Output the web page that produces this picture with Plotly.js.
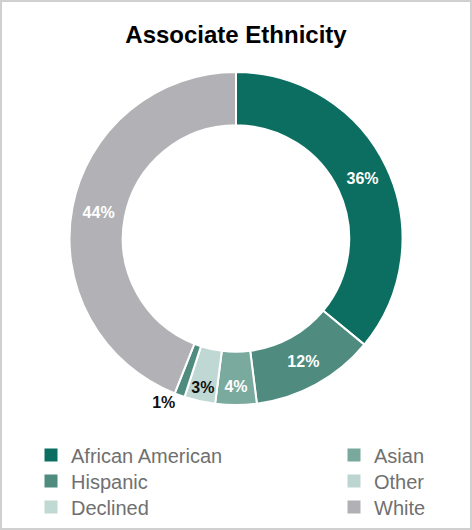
<!DOCTYPE html>
<html>
<head>
<meta charset="utf-8">
<script src="https://cdn.plot.ly/plotly-3.0.1.min.js"></script>
<style>html,body{margin:0;padding:0;background:#fff;}#chart{width:472px;height:530px;}</style>
</head>
<body>
<div id="chart"></div>
<script>
// Slice data (clockwise from top)
var sliceLabels = ['African American', 'Hispanic', 'Asian', 'Declined', 'Other', 'White'];
var sliceValues = [36, 12, 4, 3, 1, 44];
var sliceColors = ['#0c6e60', '#4f8c7f', '#7aaa9e', '#c0d8d3', '#4f8c7f', '#b2b2b6'];
var sliceTextColors = ['#ffffff', '#ffffff', '#ffffff', '#111111', '#111111', '#ffffff'];
var sliceTextPos = ['inside', 'inside', 'inside', 'inside', 'outside', 'inside'];

// Legend entries, in reading order (two columns, three rows)
var legendNames = ['African American', 'Asian', 'Hispanic', 'Other', 'Declined', 'White'];
var legendColors = ['#0c6e60', '#79a99c', '#4f8b7e', '#bdd5d0', '#c0d9d3', '#b1b1b5'];

var W = 472, H = 530;

var traces = [{
  type: 'pie',
  labels: sliceLabels,
  values: sliceValues,
  sort: false,
  direction: 'clockwise',
  rotation: 0,
  hole: 0.68,
  marker: {colors: sliceColors, line: {color: '#ffffff', width: 2}},
  textinfo: 'percent',
  textposition: sliceTextPos,
  insidetextorientation: 'horizontal',
  textfont: {family: 'Liberation Sans, Arial, sans-serif', size: 16, color: sliceTextColors, weight: 'bold'},
  showlegend: false,
  domain: {x: [69.5 / W, 402.5 / W], y: [(H - 405) / H, (H - 72) / H]},
  hoverinfo: 'label+percent'
}];

var legendFont = {family: 'Liberation Sans, Arial, sans-serif', size: 20, color: '#707070'};
var colX = [31, 334];          // legend column left edges (px)
var rowY = [455, 481, 507];    // legend row centres (px)

var layout = {
  width: W, height: H,
  margin: {l: 0, r: 0, t: 0, b: 0},
  paper_bgcolor: '#ffffff',
  plot_bgcolor: '#ffffff',
  title: {
    text: 'Associate Ethnicity',
    x: 0.5, xanchor: 'center',
    y: 1 - 35 / H, yanchor: 'middle', yref: 'container',
    font: {family: 'Liberation Sans, Arial, sans-serif', size: 24, color: '#000000', weight: 'bold'}
  },
  xaxis: {visible: false},
  yaxis: {visible: false},
  shapes: [{
    type: 'rect', xref: 'paper', yref: 'paper',
    x0: 1 / W, x1: 1 - 1 / W, y0: 1 / H, y1: 1 - 1 / H,
    line: {color: '#d0d0d0', width: 2}, fillcolor: 'rgba(0,0,0,0)'
  }]
};

for (var i = 0; i < legendNames.length; i++) {
  var id = i === 0 ? 'legend' : 'legend' + (i + 1);
  traces.push({
    type: 'scatter',
    mode: 'markers',
    x: [null], y: [null],
    name: legendNames[i],
    legend: id,
    marker: {symbol: 'square', size: 13, color: legendColors[i]},
    showlegend: true,
    hoverinfo: 'skip'
  });
  layout[id] = {
    x: colX[i % 2] / W, xanchor: 'left',
    y: (H - rowY[Math.floor(i / 2)]) / H, yanchor: 'middle',
    font: legendFont, bgcolor: 'rgba(0,0,0,0)', itemwidth: 30
  };
}

Plotly.newPlot('chart', traces, layout, {displayModeBar: false, staticPlot: true});
</script>
</body>
</html>
